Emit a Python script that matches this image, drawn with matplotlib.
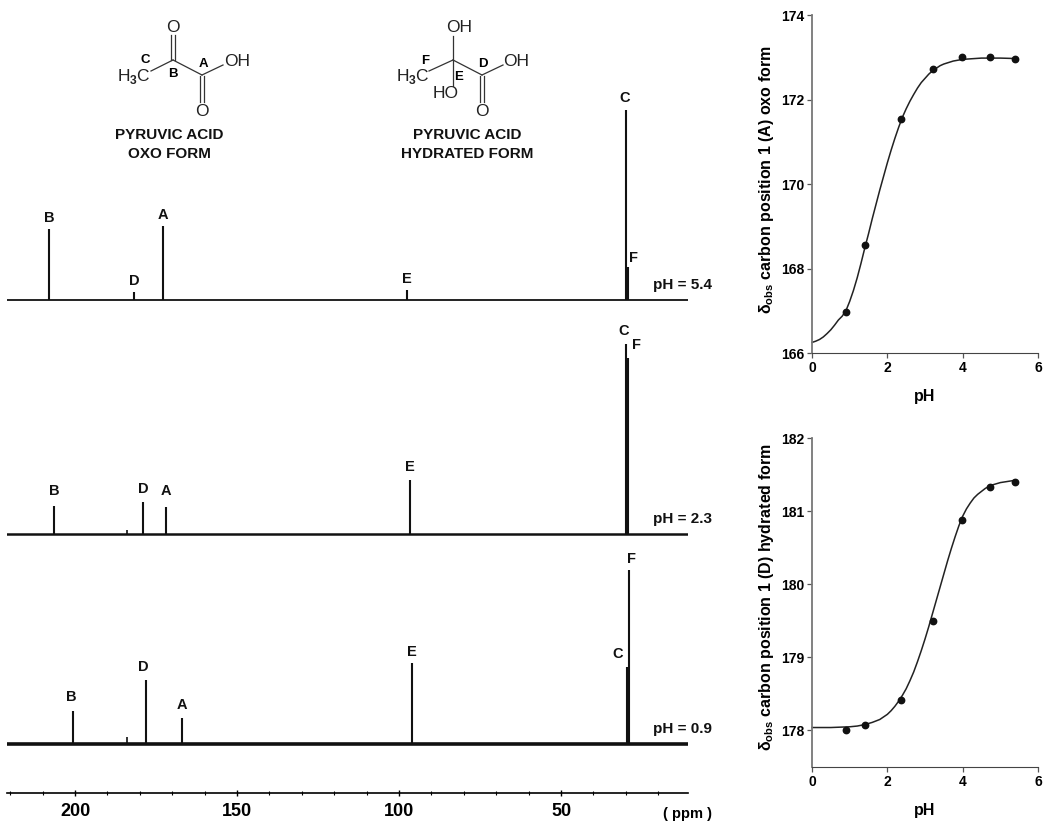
# pyruvic acid 13C spectra + titration curves
import matplotlib
matplotlib.use('Agg')
import matplotlib.pyplot as plt

plt.rcParams['font.family'] = ['Liberation Sans', 'DejaVu Sans']
plt.rcParams['font.weight'] = 'bold'
plt.rcParams['axes.labelweight'] = 'bold'
plt.rcParams['mathtext.fontset'] = 'custom'
plt.rcParams['mathtext.bf'] = 'Liberation Sans:bold'
plt.rcParams['mathtext.rm'] = 'Liberation Sans'

W, H = 1050, 822

# spectra, peak order B D A E C F
peak_names = ['B', 'D', 'A', 'E', 'C', 'F']
ppm_54 = [208.0, 181.8, 173.0, 97.5, 30.0, 29.2]
int_54 = [71, 8, 74, 10, 190, 33]
ppm_23 = [206.5, 179.0, 172.0, 96.6, 30.0, 29.2]
int_23 = [28, 32, 27, 54, 190, 176]
ppm_09 = [200.6, 178.0, 167.0, 96.0, 29.6, 29.0]
int_09 = [33, 64, 26, 81, 77, 174]
small_ppm = [184.0]
small_int = [7]

# titration points
ph_pts = [0.9, 1.42, 2.35, 3.2, 3.97, 4.72, 5.38]
oxo_pts = [166.97, 168.55, 171.55, 172.72, 173.0, 173.0, 172.97]
hyd_pts = [178.01, 178.07, 178.42, 179.5, 180.88, 181.33, 181.4]

# fitted lines
oxo_line_x = [0, 0.1, 0.2, 0.3, 0.4, 0.5, 0.6, 0.7, 0.8, 0.9, 1, 1.1, 1.2, 1.3, 1.4, 1.5, 1.6, 1.7, 1.8, 1.9, 2, 2.1,
              2.2, 2.3, 2.4, 2.5, 2.6, 2.7, 2.8, 2.9, 3, 3.1, 3.2, 3.3, 3.4, 3.5, 3.75, 4, 4.5, 5, 5.38]
oxo_line_y = [166.25, 166.28, 166.32, 166.38, 166.46, 166.55, 166.66, 166.78, 166.87, 167.0, 167.22, 167.48, 167.78,
              168.12, 168.48, 168.82, 169.18, 169.52, 169.86, 170.18, 170.5, 170.8, 171.08, 171.34, 171.58, 171.78,
              171.96, 172.12, 172.27, 172.4, 172.5, 172.6, 172.68, 172.74, 172.8, 172.84, 172.91, 172.95, 172.98,
              172.98, 172.97]
hyd_line_x = [0, 0.5, 1, 1.2, 1.4, 1.6, 1.8, 2, 2.1, 2.2, 2.3, 2.4, 2.5, 2.6, 2.7, 2.8, 2.9, 3, 3.1, 3.2, 3.3, 3.4,
              3.5, 3.6, 3.7, 3.8, 3.9, 4, 4.1, 4.2, 4.3, 4.4, 4.5, 4.6, 4.7, 4.8, 5, 5.37]
hyd_line_y = [178.04, 178.04, 178.05, 178.06, 178.08, 178.11, 178.15, 178.22, 178.27, 178.33, 178.4, 178.48, 178.57,
              178.68, 178.8, 178.94, 179.09, 179.25, 179.42, 179.6, 179.78, 179.96, 180.14, 180.32, 180.49, 180.65,
              180.8, 180.93, 181.03, 181.11, 181.18, 181.23, 181.27, 181.31, 181.34, 181.36, 181.39, 181.42]

ppm_major = [200, 150, 100, 50]
ppm_minor = [220, 210, 190, 180, 170, 160, 140, 130, 120, 110, 90, 80, 70, 60, 40, 30, 20]


def px_axes(fig, left, top, right, bottom):
    return fig.add_axes([left / W, 1 - bottom / H, (right - left) / W, (bottom - top) / H])


def spectrum(ax, ppm, inten, lw_base, label, label_dx, label_dy):
    ax.set_xlim(221, 10.8)
    ax.patch.set_alpha(0)
    ax.axhline(0, color='#111111', lw=lw_base)
    ax.vlines(ppm, 0, inten, color='#111111', lw=1.5)
    for name, p, i, dx, dy in zip(peak_names, ppm, inten, label_dx, label_dy):
        ax.annotate(name, (p, i), xytext=(dx, dy), textcoords='offset pixels',
                    ha='center', va='bottom', fontsize=10.5, color='#111111')
    ax.annotate(label, (1, 0), xycoords=('axes fraction', 'data'), xytext=(-35, 8),
                textcoords='offset pixels', ha='left', va='bottom', fontsize=11, annotation_clip=False,
                color='#111111')
    ax.set_yticks([])
    for s in ['top', 'left', 'right', 'bottom']:
        ax.spines[s].set_visible(False)
    ax.set_xticks([])


fig = plt.figure(figsize=(W / 100, H / 100), dpi=100)

a1 = px_axes(fig, 7, 90, 688, 310)
a1.set_ylim(-10, 210)
spectrum(a1, ppm_54, int_54, 1.3, 'pH = 5.4', [0, 0, 0, 0, -1, 5], [4, 4, 4, 4, 5, 2])

a2 = px_axes(fig, 7, 325, 688, 544)
a2.set_ylim(-10, 209)
spectrum(a2, ppm_23, int_23, 1.8, 'pH = 2.3', [0, 0, 0, 0, -2, 8], [8, 6, 9, 6, 6, 6])
a2.vlines([184.0], 0, [4], color='#111111', lw=1.2)

a3 = px_axes(fig, 7, 560, 688, 793)
a3.set_ylim(-49, 184)
spectrum(a3, ppm_09, int_09, 2.6, 'pH = 0.9', [-2, -3, 0, 0, -9, 2], [7, 6, 6, 4, 6, 4])
a3.vlines(small_ppm, 0, small_int, color='#111111', lw=1.2)
a3.spines['bottom'].set_visible(True)
a3.spines['bottom'].set_linewidth(1.2)
a3.set_xticks(ppm_major)
a3.set_xticks(ppm_minor, minor=True)
a3.tick_params(axis='x', which='major', direction='inout', length=5, width=1, labelsize=13, pad=5)
a3.tick_params(axis='x', which='minor', direction='inout', length=3, width=0.8)
a3.annotate('( ppm )', (1, 0), xycoords='axes fraction', xytext=(-25, -25),
            textcoords='offset pixels', ha='left', va='baseline', fontsize=10.5, annotation_clip=False)

# right hand titration plots
b1 = px_axes(fig, 812, 15, 1038, 353)
b1.plot(oxo_line_x, oxo_line_y, color='#222222', lw=1.1, clip_on=False)
b1.plot(ph_pts, oxo_pts, 'o', color='#111111', ms=4.6, clip_on=False)
b1.set_xlim(0, 6)
b1.set_ylim(166, 174)
b1.set_yticks([166, 168, 170, 172, 174])
b1.set_ylabel(r'δ$_{\mathbf{obs}}$ carbon position 1 (A) oxo form', fontsize=11.5, labelpad=4, y=0.512)

b2 = px_axes(fig, 812, 438, 1038, 767)
b2.plot(hyd_line_x, hyd_line_y, color='#222222', lw=1.1, clip_on=False)
b2.plot(ph_pts, hyd_pts, 'o', color='#111111', ms=4.6, clip_on=False)
b2.set_xlim(0, 6)
b2.set_ylim(177.5, 182)
b2.set_yticks([178, 179, 180, 181, 182])
b2.set_ylabel(r'δ$_{\mathbf{obs}}$ carbon position 1 (D) hydrated form', fontsize=11.5, labelpad=4, y=0.517)

for b in [b1, b2]:
    b.set_xticks([0, 2, 4, 6])
    b.set_xlabel('pH', fontsize=11.5, labelpad=10)
    b.tick_params(axis='both', labelsize=10, length=3.5, width=0.9, color='#555555', pad=2)
    b.spines['top'].set_visible(False)
    b.spines['right'].set_visible(False)
    b.spines['left'].set_color('#777777')
    b.spines['bottom'].set_color('#444444')
    b.spines['left'].set_linewidth(1.3)

# structures, page pixels
ov = fig.add_axes([0, 0, 1, 1])
ov.set_xlim(0, W)
ov.set_ylim(H, 0)
ov.axis('off')
ov.patch.set_alpha(0)

bonds = [
    ((151, 71), (173, 60)), ((171, 60), (171, 35)), ((175, 60), (175, 35)),
    ((173, 60), (202, 75)), ((202, 75), (223, 65)), ((200, 76), (200, 102)), ((204, 76), (204, 102)),
    ((429, 71), (453, 60)), ((453, 60), (453, 36)), ((453, 60), (453, 86)),
    ((453, 60), (482, 75)), ((482, 75), (503, 65)), ((480, 76), (480, 102)), ((484, 76), (484, 102)),
]
for p, q in bonds:
    ov.plot([p[0], q[0]], [p[1], q[1]], color='#333333', lw=0.9)

atoms = [('O', 173, 28), (r'H$_{\mathrm{3}}$C', 134, 77), ('OH', 237, 61), ('O', 202, 111),
         ('OH', 459, 27), (r'H$_{\mathrm{3}}$C', 413, 77), ('HO', 446, 94), ('OH', 516, 61), ('O', 482, 111)]
for s, x, y in atoms:
    ov.text(x, y, s, ha='center', va='center', fontsize=12.5, fontweight='normal', color='#222222')

letters = [('C', 145, 60), ('B', 173, 74), ('A', 203, 64), ('F', 425, 61), ('E', 459, 77), ('D', 483, 64)]
for s, x, y in letters:
    ov.text(x, y, s, ha='center', va='center', fontsize=9.5)

titles = [('PYRUVIC ACID', 169, 135), ('OXO FORM', 169, 154), ('PYRUVIC ACID', 467, 135), ('HYDRATED FORM', 467, 154)]
for s, x, y in titles:
    ov.text(x, y, s, ha='center', va='center', fontsize=11, color='#111111')

fig.savefig('out.png', dpi=100)
